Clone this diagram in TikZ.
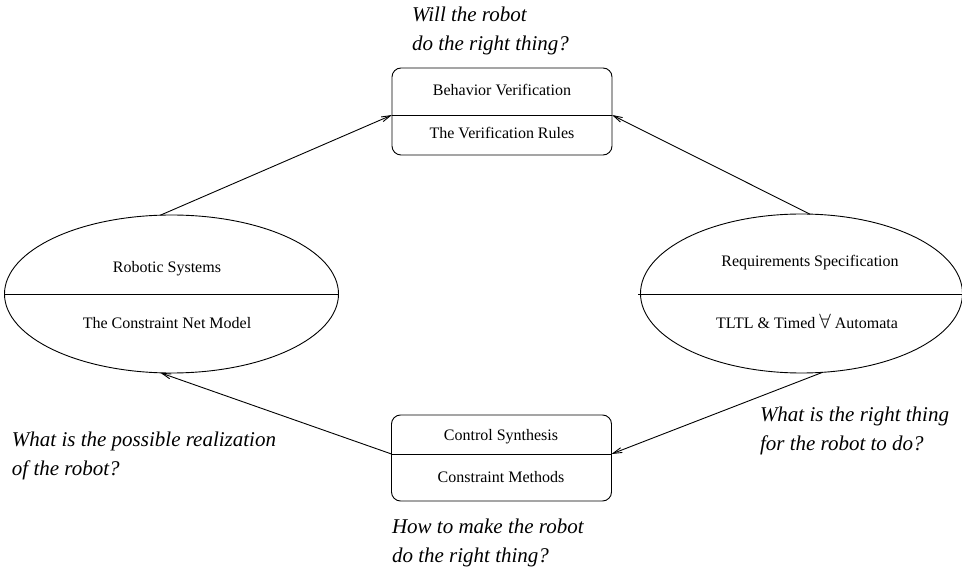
\documentclass[tikz,border=0pt]{standalone}
\usepackage{fontspec}
\setmainfont{Liberation Serif}
\usetikzlibrary{shapes.geometric,arrows.meta}
\begin{document}
\begin{tikzpicture}[x=1pt,y=-1pt,
  every node/.style={inner sep=0pt,outer sep=0pt},
  boxshape/.style={draw,line width=0.9pt,rounded corners=9pt,minimum width=220pt},
  ellshape/.style={draw,ellipse,line width=0.9pt},
  divider/.style={line width=0.9pt},
  label/.style={font=\fontsize{16}{19}\selectfont},
  question/.style={font=\fontsize{21}{29}\selectfont\itshape,align=left,anchor=west},
  conn/.style={line width=0.9pt,-{Straight Barb[length=9pt,width=5pt]}}]
\useasboundingbox (0,0) rectangle (962,569);
% boxes
\node[boxshape,minimum height=87pt] (T) at (502,111.5) {};
\node[boxshape,minimum height=86pt] (B) at (501.5,458) {};
\coordinate (Tl) at (392,115); \coordinate (Tr) at (612,115);
\coordinate (Bl) at (391.5,454); \coordinate (Br) at (611.5,454);
\draw[divider] (Tl) -- (Tr);
\draw[divider] (Bl) -- (Br);
\node[label] (t1) at (502,90) {Behavior Verification};
\node[label] (t2) at (502,133) {The Verification Rules};
\node[label] (b1) at (501,437) {Control Synthesis};
\node[label] (b2) at (501,477) {Constraint Methods};
% ellipses
\node[ellshape,minimum width=334pt,minimum height=158pt] (L) at (171.5,294) {};
\node[ellshape,minimum width=322pt,minimum height=159pt] (R) at (801.5,293.5) {};
\coordinate (Ll) at (5,294.5); \coordinate (Lr) at (338,294.5);
\coordinate (Rl) at (638,294.5); \coordinate (Rr) at (962,294.5);
\draw[divider] (Ll) -- (Lr);
\draw[divider] (Rl) -- (Rr);
\node[label] (l1) at (167,269) {Robotic Systems};
\node[label] (l2) at (167,323) {The Constraint Net Model};
\node[label] (r1) at (810,263) {Requirements Specification};
\node[label] (r2) at (807,321) {TLTL \& Timed {\fontsize{20}{20}\selectfont$\forall$} Automata};
% connectors
\draw[conn] (L.98) -- (Tl);
\draw[conn] (R.84) -- (Tr);
\draw[conn] (R.285) -- (Br);
\draw[conn] (Bl) -- (L.262);
% questions
\node[question] (q1) at (412,31) {Will the robot\\do the right thing?};
\node[question] (q2) at (392,543) {How to make the robot\\do the right thing?};
\node[question] (q3) at (12,456) {What is the possible realization\\of the robot?};
\node[question] (q4) at (760,431) {What is the right thing\\for the robot to do?};
\end{tikzpicture}
\end{document}
